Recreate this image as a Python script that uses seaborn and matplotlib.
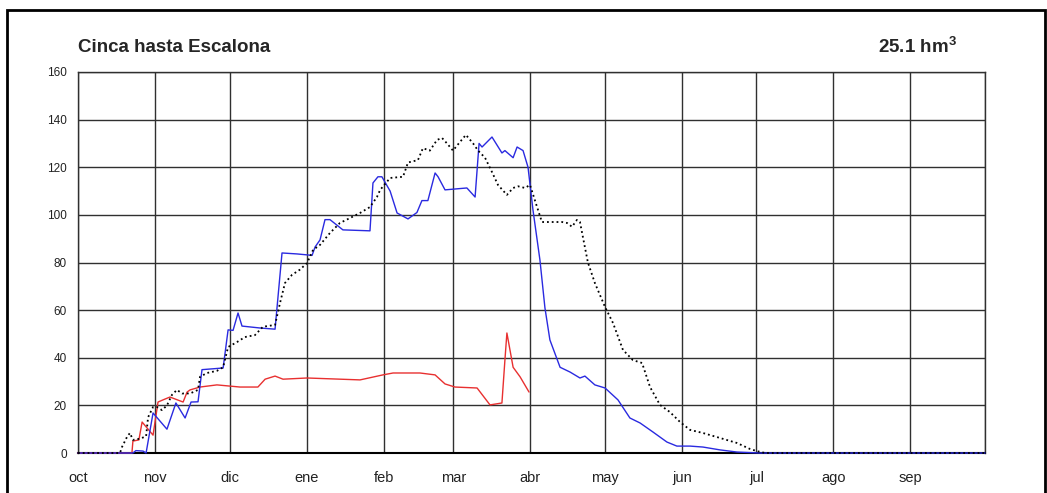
import seaborn as sns
import matplotlib.pyplot as plt
from matplotlib.patches import Rectangle

# hydrological year: days counted from 1 October
months = ['oct', 'nov', 'dic', 'ene', 'feb', 'mar', 'abr', 'may', 'jun', 'jul', 'ago', 'sep']
month_start = [0, 31, 61, 92, 123, 151, 182, 212, 243, 273, 304, 335]
year_len = 365
y_ticks = [0, 20, 40, 60, 80, 100, 120, 140, 160]

title = 'Cinca hasta Escalona'
volume_label = r'25.1 hm$^{\mathrm{3}}$'

# blue series (solid)
blue_day = [0, 22.1, 23.3, 26.2, 27.4, 30.2, 35.8, 39.4, 43.1, 45.5, 48.3, 49.9, 58.4,
            60.4, 62.4, 64.4, 66.0, 73.2, 79.3, 82.1, 88.1, 94.2, 95.4, 97.4, 99.4,
            101.4, 106.6, 117.5, 118.7, 120.7, 122.3, 125.6, 128.4, 132.8, 136.4, 138.4,
            140.8, 143.7, 144.9, 147.7, 156.5, 159.8, 161.4, 162.6, 166.6, 170.6, 171.8,
            175.1, 176.7, 179.1, 181.1, 183.1, 185.9, 187.9, 189.9, 194.0, 198.0, 202.0,
            204.0, 208.0, 212.1, 217.3, 222.1, 226.2, 231.4, 237.0, 241.0, 246.3, 251.5,
            258.4, 265.2, 274.4, 365]
blue_val = [0, 0, 1, 0.8, 0, 16.8, 10, 21, 14.7, 21.4, 21.5, 35, 35.7,
            51.7, 51.5, 58.8, 53.3, 52.5, 52, 84, 83.6, 83, 86.5, 89.5, 98,
            98, 93.7, 93.3, 113.4, 116, 116, 110, 100.8, 98.3, 101, 106,
            106, 117.6, 116, 110.5, 111.3, 107.5, 130, 128.5, 132.7, 126, 127,
            124, 128.5, 127, 120, 102, 81, 61, 47.5, 36, 34, 31.5,
            32.3, 28.6, 27.3, 22.3, 14.7, 12.6, 8.8, 4.6, 2.9, 2.9, 2.5,
            1.3, 0.4, 0, 0]

# red series (solid, ends in April)
red_day = [0, 21.7, 22.1, 24.5, 25.8, 30.2, 32.2, 34.2, 37.0, 42.3, 43.9, 45.1, 49.1,
           55.9, 65.2, 72.4, 75.3, 79.3, 82.5, 92.2, 113.5, 122.7, 126.8, 137.6,
           143.7, 147.7, 151.7, 160.6, 165.8, 170.6, 171.8, 172.6, 175.1, 177.9, 181.5]
red_val = [0, 0, 5, 5.5, 13, 7.5, 21.4, 22.3, 23.5, 21.4, 25.6, 26.5, 27.7,
           28.6, 27.7, 27.7, 31, 32.3, 31, 31.5, 30.7, 32.8, 33.6, 33.6,
           32.8, 29, 27.7, 27.3, 20.2, 21, 39, 50.4, 36, 32, 25.6]

# black dotted series
black_day = [0, 16.9, 17.7, 19.7, 20.9, 22.1, 24.9, 27.4, 28.2, 30.2, 31.8, 33.8, 35.8,
             37.8, 39.8, 41.9, 45.1, 48.3, 49.1, 51.9, 55.9, 58.4, 60.4, 64.0, 67.2,
             71.2, 74.4, 79.3, 81.3, 83.3, 86.1, 89.3, 92.2, 94.6, 97.4, 101.4, 105.4,
             109.5, 113.5, 117.5, 120.3, 121.6, 125.6, 130.8, 132.8, 136.8, 138.8, 141.6,
             144.5, 146.5, 148.5, 150.9, 153.7, 156.1, 159.0, 161.0, 163.8, 166.6, 169.0,
             172.6, 175.1, 177.1, 179.9, 181.9, 183.9, 186.7, 194.8, 196.8, 198.8, 200.8,
             202.0, 205.2, 208.0, 212.1, 215.3, 219.3, 223.3, 227.0, 230.2, 234.2, 238.2,
             242.3, 246.3, 251.5, 258.4, 265.2, 270.4, 273.2, 276.5, 365]
black_val = [0, 0, 2.5, 6.7, 8.4, 5.5, 6, 7, 15, 19.3, 19.3, 18, 20,
             24.4, 26.5, 25, 25, 26.5, 32, 33.6, 34.5, 36, 44.5, 46.6, 48.7,
             49.5, 53, 53.8, 63, 71.4, 74.8, 77, 79.8, 85.3, 87.4, 92.4, 96.6,
             98.7, 100.8, 103.3, 107.5, 110.5, 115.5, 116, 122, 123, 128, 127,
             131.5, 132.3, 130, 127, 130.6, 133.6, 130, 127, 124, 118, 112.6,
             108.4, 111.3, 112, 111.3, 112.6, 106, 97, 97, 96.6, 95, 97.9,
             97, 80, 71.4, 61.3, 54.6, 43.3, 39, 37.8, 27.7, 20.2, 17.2,
             13, 9.7, 8.4, 6.3, 4.2, 1.7, 0.8, 0, 0]

sns.set_style('white')
plt.rcParams['font.family'] = ['Liberation Sans', 'DejaVu Sans']
plt.rcParams['mathtext.fontset'] = 'custom'
plt.rcParams['mathtext.rm'] = 'Liberation Sans:bold'

fig = plt.figure(figsize=(10.47, 4.93), dpi=100)
ax = fig.add_axes([78 / 1047, 40 / 493, 907 / 1047, 381 / 493])

sns.lineplot(x=red_day, y=red_val, ax=ax, color='#e83030', linewidth=1.0,
             estimator=None, sort=False)
sns.lineplot(x=blue_day, y=blue_val, ax=ax, color='#2a2ae0', linewidth=1.0,
             estimator=None, sort=False)
sns.lineplot(x=black_day, y=black_val, ax=ax, color='black', linewidth=1.3,
             linestyle=':', estimator=None, sort=False)
# keep the curves visible on top of the zero axis line
for i, line in enumerate(ax.get_lines()):
    line.set_zorder(4 + i)
    line.set_clip_on(False)

ax.set_xlim(0, year_len)
ax.set_ylim(0, 160)
ax.set_xticks(month_start + [year_len])
ax.set_xticklabels(months + [''])
ax.set_yticks(y_ticks)
ax.grid(True, color='#303030', linewidth=1.0)
ax.tick_params(axis='x', direction='out', length=6, width=1, color='#303030',
               labelsize=10.5, pad=7, labelcolor='#222222')
ax.tick_params(axis='y', direction='out', length=6, width=1, color='#303030',
               labelsize=8.5, pad=2, labelcolor='#222222')
ax.set_xlabel('')
ax.set_ylabel('')
for side in ['top', 'right', 'left']:
    ax.spines[side].set_color('#303030')
    ax.spines[side].set_linewidth(1.0)
ax.spines['bottom'].set_color('black')
ax.spines['bottom'].set_linewidth(1.5)

fig.text(78 / 1047, 1 - 47 / 493, title, fontsize=13.5, fontweight='bold',
         ha='left', va='center')
fig.text(957 / 1047, 1 - 47 / 493, volume_label, fontsize=13.5, fontweight='bold',
         ha='right', va='center')

# frame around the whole chart
fig.add_artist(Rectangle((7 / 1047, -0.05), (1045 - 7) / 1047, 0.05 + (493 - 10) / 493,
                         transform=fig.transFigure, fill=False, edgecolor='black',
                         linewidth=2))

fig.savefig('out.png', dpi=100)
